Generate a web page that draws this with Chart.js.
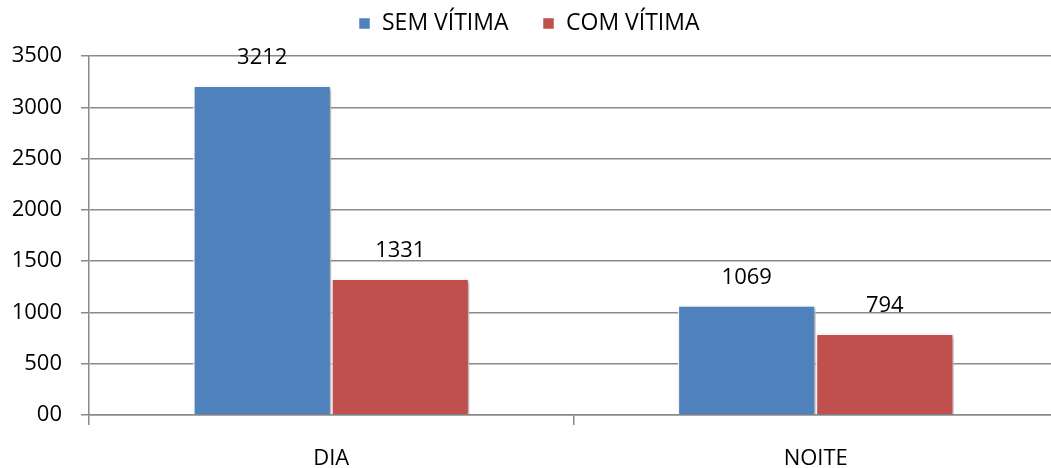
<!DOCTYPE html>
<html>
<head>
<meta charset="utf-8">
<script src="https://cdn.jsdelivr.net/npm/chart.js@4"></script>
<style>
  html, body { margin: 0; padding: 0; background: #fff; overflow: hidden; }
  #wrap { width: 1070px; height: 468px; }
</style>
</head>
<body>
<div id="wrap"><canvas id="chart" width="1070" height="468"></canvas></div>
<script>
// Data
const categories = ['DIA', 'NOITE'];
const seriesNames = ['SEM VÍTIMA', 'COM VÍTIMA'];
const semVitima = [3212, 1069];
const comVitima = [1331, 794];
const yTicks = [0, 500, 1000, 1500, 2000, 2500, 3000, 3500];

const COLORS = {
    blue: '#4F81BD',
    red: '#C0504D',
    grid: '#8a8a8a'
};

const FONT = "'Open Sans', sans-serif";

// Draw values above each bar
const valueLabels = {
    id: 'valueLabels',
    afterDatasetsDraw(chart) {
        const ctx = chart.ctx;
        ctx.save();
        ctx.font = `22px ${FONT}`;
        ctx.fillStyle = '#000';
        ctx.textAlign = 'center';
        ctx.textBaseline = 'middle';
        chart.data.datasets.forEach((ds, i) => {
            chart.getDatasetMeta(i).data.forEach((bar, j) => {
                ctx.fillText(String(ds.data[j]), bar.x, bar.y - 28);
            });
        });
        ctx.restore();
    }
};

// Soft shadow behind the bars
const barShadow = {
    id: 'barShadow',
    beforeDatasetsDraw(chart) {
        const ctx = chart.ctx;
        ctx.save();
        ctx.shadowColor = 'rgba(0,0,0,0.35)';
        ctx.shadowBlur = 4;
        ctx.shadowOffsetX = 2;
        ctx.shadowOffsetY = 2;
    },
    afterDatasetsDraw(chart) {
        chart.ctx.restore();
    }
};

// Extra space under the legend
const legendGap = {
    id: 'legendGap',
    beforeInit(chart) {
        const origFit = chart.legend.fit;
        chart.legend.fit = function () {
            origFit.bind(chart.legend)();
            this.height += 11;
        };
    }
};

new Chart(document.getElementById('chart'), {
    type: 'bar',
    data: {
        labels: categories,
        datasets: [
            {
                label: seriesNames[0],
                data: semVitima,
                backgroundColor: COLORS.blue,
                borderColor: '#ffffff',
                borderWidth: 1.5,
                categoryPercentage: 0.57,
                barPercentage: 1.0
            },
            {
                label: seriesNames[1],
                data: comVitima,
                backgroundColor: COLORS.red,
                borderColor: '#ffffff',
                borderWidth: 1.5,
                categoryPercentage: 0.57,
                barPercentage: 1.0
            }
        ]
    },
    options: {
        responsive: false,
        animation: false,
        layout: { padding: { left: 0, right: 12, top: -22, bottom: 0 } },
        plugins: {
            legend: {
                position: 'top',
                labels: {
                    color: '#000',
                    font: { family: FONT, size: 23 },
                    boxWidth: 12,
                    boxHeight: 12,
                    padding: 34
                }
            },
            tooltip: { enabled: false }
        },
        scales: {
            y: {
                min: 0,
                max: 3500,
                afterBuildTicks: (scale) => {
                    scale.ticks = yTicks.map(v => ({ value: v }));
                },
                afterFit: (scale) => { scale.width = 89; },
                ticks: {
                    color: '#000',
                    font: { family: FONT, size: 22 },
                    padding: 19,
                    callback: (v) => v === 0 ? '00' : v
                },
                grid: { color: COLORS.grid, lineWidth: 1.5, tickLength: 8 },
                border: { color: COLORS.grid, width: 1.5 }
            },
            x: {
                afterFit: (scale) => { scale.height = 53; },
                ticks: {
                    color: '#000',
                    font: { family: FONT, size: 22 },
                    padding: 21
                },
                grid: { drawOnChartArea: false, color: COLORS.grid, lineWidth: 1.5, tickLength: 10, offset: true },
                border: { color: COLORS.grid, width: 1.5 }
            }
        }
    },
    plugins: [legendGap, barShadow, valueLabels]
});
</script>
</body>
</html>
